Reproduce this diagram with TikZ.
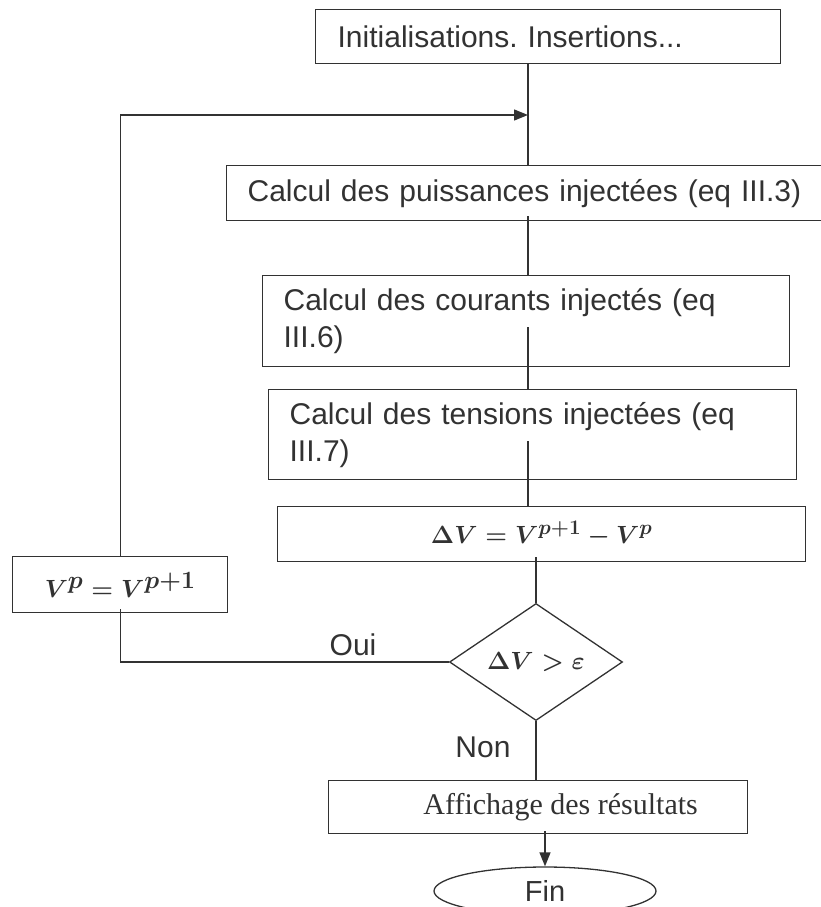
\documentclass[tikz,border=0pt]{standalone}
\usepackage{fontspec}
\setmainfont{Liberation Sans}
\newfontfamily\timesfont{Liberation Serif}
\usetikzlibrary{shapes.geometric,arrows.meta,calc}
\definecolor{ink}{RGB}{50,50,50}
\frenchspacing
\begin{document}
\begin{tikzpicture}[x=1pt,y=-1pt,
  every node/.style={text=ink},
  box/.style={draw=ink, line width=1.3pt, rectangle, anchor=north west, inner ysep=0pt,
    font=\fontsize{30pt}{37pt}\selectfont},
  tbox/.style={box, inner xsep=21pt, align=left},
  mbox/.style={box, inner xsep=0pt, font=\fontsize{30pt}{34pt}\selectfont\boldmath},
  line/.style={draw=ink, line width=1.3pt},
  arr/.style={line, -{Triangle[length=14pt,width=11pt]}},
  lab/.style={font=\fontsize{30pt}{36pt}\selectfont}
]
\useasboundingbox (0,0) rectangle (820,907);

% nodes
\node[tbox, inner xsep=22pt, minimum width=465pt, minimum height=54pt, text width=421pt] (init) at (315,9) {Initialisations. Insertions...};
\node[tbox, minimum width=596pt, minimum height=55pt, text width=554pt] (puiss) at (226,165) {Calcul des puissances injectées (eq III.3)};
\node[tbox, minimum width=527pt, minimum height=91pt, text width=485pt] (cour) at (262,275) {Calcul des courants injectés (eq\\III.6)};
\node[tbox, minimum width=528pt, minimum height=90pt, text width=486pt] (tens) at (268,389) {Calcul des tensions injectées (eq\\III.7)};
\node[mbox, minimum width=528pt, minimum height=55pt] (dv) at (277,506) {$\Delta V = V^{p+1} - V^{p}$};
\node[mbox, minimum width=215pt, minimum height=56pt, font=\fontsize{33pt}{36pt}\selectfont\boldmath] (vp) at (12,556) {$V^{p} = V^{p+1}$};
\node[draw=ink, line width=1.3pt, diamond, inner sep=0pt, minimum width=173pt, minimum height=114pt,
  font=\fontsize{30pt}{34pt}\selectfont\boldmath] (dec) at (536,662) {$\Delta V > \varepsilon$};
\node[box, inner xsep=0pt, minimum width=419pt, minimum height=53pt, font=\timesfont\fontsize{30pt}{36pt}\selectfont] (aff) at (328,780) {\hspace*{45pt}Affichage des résultats};
\node[draw=ink, line width=1.3pt, ellipse, inner sep=0pt, minimum width=222pt, minimum height=48pt,
  font=\fontsize{29pt}{33pt}\selectfont] (fin) at (545,891) {Fin};

\node[lab] (oui) at (353,645) {Oui};
\node[lab] (non) at (483,747) {Non};

\coordinate (merge) at (528,115);

% connectors
\draw[line] (init.south -| merge) -- (puiss.north -| merge);
\draw[arr] (vp.north) |- (merge);
\draw[line] ($(puiss.south -| merge)+(0,-5)$) -- (cour.north -| merge);
\draw[line] ($(cour.south -| merge)+(0,-40)$) -- (tens.north -| merge);
\draw[line] ($(tens.south -| merge)+(0,-39)$) -- (dv.north -| merge);
\draw[line] ($(dv.south -| dec.north)+(0,-5)$) -- (dec.north);
\draw[line] (dec.west) -| ($(vp.south)+(0,-4)$);
\draw[line] (dec.south) -- (dec.south |- aff.north);
\draw[arr] ($(aff.south -| fin.north)+(0,-3)$) -- (fin.north);
\end{tikzpicture}
\end{document}
